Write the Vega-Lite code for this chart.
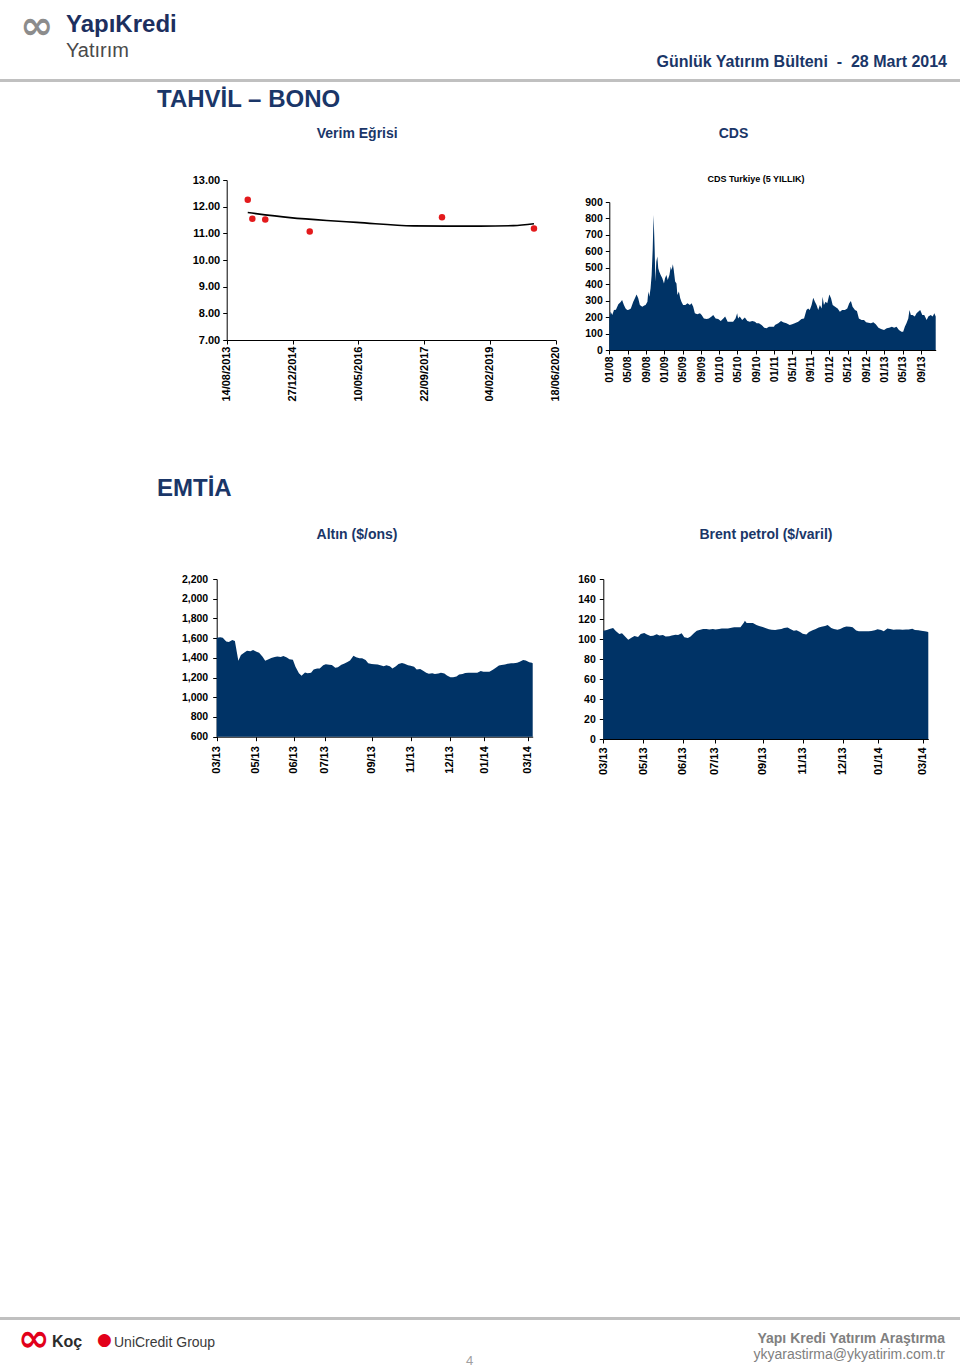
{
  "$schema": "https://vega.github.io/schema/vega-lite/v6.json",
  "background": "white",
  "padding": 0,
  "bounds": "flush",
  "spacing": 0,
  "datasets": {
    "blank": [{"part": "frame"}],
    "yield_points": [
      {"date": "2014-01-21", "yield": 12.26},
      {"date": "2014-02-25", "yield": 11.55},
      {"date": "2014-06-03", "yield": 11.52},
      {"date": "2015-05-07", "yield": 11.07},
      {"date": "2018-02-05", "yield": 11.60},
      {"date": "2020-01-05", "yield": 11.18}
    ],
    "yield_trend": [
      {"date": "2014-01-21", "yield": 11.78},
      {"date": "2014-12-08", "yield": 11.59},
      {"date": "2015-09-13", "yield": 11.48},
      {"date": "2016-04-28", "yield": 11.41},
      {"date": "2017-07-02", "yield": 11.28},
      {"date": "2018-03-13", "yield": 11.27},
      {"date": "2018-11-21", "yield": 11.27},
      {"date": "2019-08-01", "yield": 11.29},
      {"date": "2020-01-05", "yield": 11.36}
    ],
    "cds": [
      {"date": "2008-01-01", "cds": 192}, {"date": "2008-01-10", "cds": 233}, {"date": "2008-01-21", "cds": 213},
      {"date": "2008-02-01", "cds": 243}, {"date": "2008-02-14", "cds": 245}, {"date": "2008-03-01", "cds": 278},
      {"date": "2008-03-15", "cds": 290}, {"date": "2008-03-26", "cds": 304}, {"date": "2008-04-07", "cds": 274},
      {"date": "2008-04-18", "cds": 253}, {"date": "2008-04-29", "cds": 243}, {"date": "2008-05-10", "cds": 245},
      {"date": "2008-05-23", "cds": 253}, {"date": "2008-06-08", "cds": 294}, {"date": "2008-06-19", "cds": 314},
      {"date": "2008-06-30", "cds": 338}, {"date": "2008-07-11", "cds": 314}, {"date": "2008-07-22", "cds": 274},
      {"date": "2008-08-07", "cds": 263}, {"date": "2008-08-20", "cds": 270}, {"date": "2008-08-29", "cds": 274},
      {"date": "2008-09-10", "cds": 294}, {"date": "2008-09-16", "cds": 355}, {"date": "2008-09-23", "cds": 324},
      {"date": "2008-10-01", "cds": 375}, {"date": "2008-10-08", "cds": 456}, {"date": "2008-10-15", "cds": 608},
      {"date": "2008-10-21", "cds": 821}, {"date": "2008-10-28", "cds": 618}, {"date": "2008-11-02", "cds": 416},
      {"date": "2008-11-08", "cds": 537}, {"date": "2008-11-15", "cds": 568}, {"date": "2008-11-21", "cds": 497},
      {"date": "2008-11-28", "cds": 476}, {"date": "2008-12-07", "cds": 456}, {"date": "2008-12-18", "cds": 436},
      {"date": "2008-12-29", "cds": 405}, {"date": "2009-01-05", "cds": 436}, {"date": "2009-01-14", "cds": 456},
      {"date": "2009-01-23", "cds": 426}, {"date": "2009-02-03", "cds": 456}, {"date": "2009-02-12", "cds": 507},
      {"date": "2009-02-18", "cds": 487}, {"date": "2009-02-26", "cds": 521}, {"date": "2009-03-04", "cds": 487},
      {"date": "2009-03-13", "cds": 416}, {"date": "2009-03-22", "cds": 405}, {"date": "2009-03-28", "cds": 334},
      {"date": "2009-04-07", "cds": 355}, {"date": "2009-04-16", "cds": 314}, {"date": "2009-04-24", "cds": 294},
      {"date": "2009-05-05", "cds": 274}, {"date": "2009-05-20", "cds": 274}, {"date": "2009-06-03", "cds": 284},
      {"date": "2009-06-19", "cds": 274}, {"date": "2009-06-30", "cds": 284}, {"date": "2009-07-11", "cds": 263},
      {"date": "2009-07-22", "cds": 223}, {"date": "2009-08-07", "cds": 217}, {"date": "2009-08-25", "cds": 223},
      {"date": "2009-09-05", "cds": 213}, {"date": "2009-09-20", "cds": 192}, {"date": "2009-10-08", "cds": 189},
      {"date": "2009-10-23", "cds": 192}, {"date": "2009-11-10", "cds": 203}, {"date": "2009-11-21", "cds": 213},
      {"date": "2009-12-07", "cds": 192}, {"date": "2009-12-24", "cds": 189}, {"date": "2010-01-10", "cds": 176},
      {"date": "2010-01-27", "cds": 192}, {"date": "2010-02-08", "cds": 203}, {"date": "2010-02-25", "cds": 172},
      {"date": "2010-03-11", "cds": 172}, {"date": "2010-04-02", "cds": 172}, {"date": "2010-04-18", "cds": 192},
      {"date": "2010-04-29", "cds": 223}, {"date": "2010-05-05", "cds": 192}, {"date": "2010-05-16", "cds": 203},
      {"date": "2010-06-01", "cds": 182}, {"date": "2010-06-19", "cds": 197}, {"date": "2010-07-06", "cds": 176},
      {"date": "2010-07-22", "cds": 172}, {"date": "2010-08-07", "cds": 176}, {"date": "2010-08-25", "cds": 172},
      {"date": "2010-09-05", "cds": 162}, {"date": "2010-09-20", "cds": 162}, {"date": "2010-10-08", "cds": 152},
      {"date": "2010-10-26", "cds": 136}, {"date": "2010-11-10", "cds": 132}, {"date": "2010-11-26", "cds": 142},
      {"date": "2010-12-14", "cds": 142}, {"date": "2010-12-29", "cds": 142}, {"date": "2011-01-05", "cds": 152},
      {"date": "2011-01-27", "cds": 162}, {"date": "2011-02-14", "cds": 176}, {"date": "2011-02-28", "cds": 168},
      {"date": "2011-03-22", "cds": 162}, {"date": "2011-04-13", "cds": 152}, {"date": "2011-04-29", "cds": 156},
      {"date": "2011-05-16", "cds": 162}, {"date": "2011-06-08", "cds": 172}, {"date": "2011-06-30", "cds": 189},
      {"date": "2011-07-17", "cds": 192}, {"date": "2011-08-02", "cds": 243}, {"date": "2011-08-13", "cds": 253},
      {"date": "2011-08-24", "cds": 243}, {"date": "2011-09-05", "cds": 274}, {"date": "2011-09-16", "cds": 318},
      {"date": "2011-09-27", "cds": 294}, {"date": "2011-10-08", "cds": 274}, {"date": "2011-10-19", "cds": 243},
      {"date": "2011-10-30", "cds": 274}, {"date": "2011-11-11", "cds": 253}, {"date": "2011-11-17", "cds": 324},
      {"date": "2011-11-26", "cds": 274}, {"date": "2011-12-07", "cds": 294}, {"date": "2011-12-18", "cds": 284},
      {"date": "2012-01-01", "cds": 338}, {"date": "2012-01-12", "cds": 314}, {"date": "2012-01-23", "cds": 274},
      {"date": "2012-02-08", "cds": 263}, {"date": "2012-02-25", "cds": 253}, {"date": "2012-03-11", "cds": 233},
      {"date": "2012-03-26", "cds": 243}, {"date": "2012-04-13", "cds": 243}, {"date": "2012-04-29", "cds": 253},
      {"date": "2012-05-12", "cds": 284}, {"date": "2012-05-23", "cds": 298}, {"date": "2012-06-03", "cds": 263},
      {"date": "2012-06-19", "cds": 243}, {"date": "2012-07-02", "cds": 237}, {"date": "2012-07-15", "cds": 192},
      {"date": "2012-08-02", "cds": 182}, {"date": "2012-08-18", "cds": 182}, {"date": "2012-09-01", "cds": 168},
      {"date": "2012-09-16", "cds": 166}, {"date": "2012-10-03", "cds": 162}, {"date": "2012-10-19", "cds": 168},
      {"date": "2012-11-04", "cds": 156}, {"date": "2012-11-22", "cds": 136}, {"date": "2012-12-09", "cds": 128},
      {"date": "2012-12-29", "cds": 122}, {"date": "2013-01-16", "cds": 132}, {"date": "2013-02-01", "cds": 136},
      {"date": "2013-02-19", "cds": 142}, {"date": "2013-03-06", "cds": 136}, {"date": "2013-03-22", "cds": 142},
      {"date": "2013-04-07", "cds": 122}, {"date": "2013-04-24", "cds": 111}, {"date": "2013-05-05", "cds": 111},
      {"date": "2013-05-16", "cds": 142}, {"date": "2013-05-27", "cds": 162}, {"date": "2013-06-08", "cds": 192},
      {"date": "2013-06-16", "cds": 243}, {"date": "2013-06-25", "cds": 213}, {"date": "2013-07-06", "cds": 213},
      {"date": "2013-07-21", "cds": 203}, {"date": "2013-08-02", "cds": 223}, {"date": "2013-08-13", "cds": 233},
      {"date": "2013-08-26", "cds": 243}, {"date": "2013-09-09", "cds": 213}, {"date": "2013-09-22", "cds": 213},
      {"date": "2013-10-08", "cds": 182}, {"date": "2013-10-19", "cds": 203}, {"date": "2013-11-04", "cds": 213},
      {"date": "2013-11-17", "cds": 203}, {"date": "2013-11-28", "cds": 223}, {"date": "2013-12-07", "cds": 203}
    ],
    "commodities": [
      {"date": "2013-03-28", "gold": 1605, "brent": 108.3}, {"date": "2013-04-01", "gold": 1608, "brent": 109},
      {"date": "2013-04-04", "gold": 1604, "brent": 110}, {"date": "2013-04-08", "gold": 1565, "brent": 111},
      {"date": "2013-04-11", "gold": 1560, "brent": 108}, {"date": "2013-04-15", "gold": 1580, "brent": 105},
      {"date": "2013-04-18", "gold": 1570, "brent": 105.7}, {"date": "2013-04-22", "gold": 1371, "brent": 102},
      {"date": "2013-04-25", "gold": 1430, "brent": 99.3}, {"date": "2013-04-29", "gold": 1455, "brent": 101.5},
      {"date": "2013-05-02", "gold": 1473, "brent": 103}, {"date": "2013-05-06", "gold": 1466, "brent": 102},
      {"date": "2013-05-09", "gold": 1480, "brent": 105}, {"date": "2013-05-13", "gold": 1463, "brent": 106},
      {"date": "2013-05-16", "gold": 1452, "brent": 104.5}, {"date": "2013-05-20", "gold": 1410, "brent": 103},
      {"date": "2013-05-23", "gold": 1370, "brent": 103.3}, {"date": "2013-05-27", "gold": 1385, "brent": 104.7},
      {"date": "2013-05-30", "gold": 1398, "brent": 103.5}, {"date": "2013-06-03", "gold": 1408, "brent": 104},
      {"date": "2013-06-06", "gold": 1413, "brent": 102.5}, {"date": "2013-06-10", "gold": 1408, "brent": 102.7},
      {"date": "2013-06-13", "gold": 1420, "brent": 103.5}, {"date": "2013-06-17", "gold": 1404, "brent": 104.3},
      {"date": "2013-06-20", "gold": 1385, "brent": 104}, {"date": "2013-06-24", "gold": 1381, "brent": 105.7},
      {"date": "2013-06-27", "gold": 1310, "brent": 101.7}, {"date": "2013-07-01", "gold": 1245, "brent": 101},
      {"date": "2013-07-04", "gold": 1219, "brent": 102.5}, {"date": "2013-07-08", "gold": 1252, "brent": 106},
      {"date": "2013-07-11", "gold": 1243, "brent": 108.3}, {"date": "2013-07-15", "gold": 1250, "brent": 109.3},
      {"date": "2013-07-18", "gold": 1282, "brent": 110}, {"date": "2013-07-22", "gold": 1293, "brent": 110},
      {"date": "2013-07-25", "gold": 1293, "brent": 109.5}, {"date": "2013-07-29", "gold": 1325, "brent": 110},
      {"date": "2013-08-01", "gold": 1335, "brent": 109.5}, {"date": "2013-08-05", "gold": 1329, "brent": 110},
      {"date": "2013-08-08", "gold": 1327, "brent": 110.5}, {"date": "2013-08-12", "gold": 1300, "brent": 110.5},
      {"date": "2013-08-15", "gold": 1305, "brent": 110.5}, {"date": "2013-08-19", "gold": 1330, "brent": 111.3},
      {"date": "2013-08-22", "gold": 1340, "brent": 111.7}, {"date": "2013-08-26", "gold": 1358, "brent": 111.7},
      {"date": "2013-08-29", "gold": 1372, "brent": 111.7}, {"date": "2013-09-02", "gold": 1421, "brent": 116.5},
      {"date": "2013-09-03", "gold": 1415, "brent": 118.3}, {"date": "2013-09-05", "gold": 1407, "brent": 116},
      {"date": "2013-09-09", "gold": 1396, "brent": 116}, {"date": "2013-09-12", "gold": 1395, "brent": 116},
      {"date": "2013-09-16", "gold": 1378, "brent": 114}, {"date": "2013-09-19", "gold": 1345, "brent": 113},
      {"date": "2013-09-23", "gold": 1338, "brent": 112}, {"date": "2013-09-26", "gold": 1335, "brent": 111},
      {"date": "2013-09-30", "gold": 1332, "brent": 109.7}, {"date": "2013-10-03", "gold": 1325, "brent": 109.3},
      {"date": "2013-10-07", "gold": 1316, "brent": 109}, {"date": "2013-10-10", "gold": 1326, "brent": 109.5},
      {"date": "2013-10-14", "gold": 1314, "brent": 110}, {"date": "2013-10-17", "gold": 1292, "brent": 111},
      {"date": "2013-10-21", "gold": 1314, "brent": 111.5}, {"date": "2013-10-24", "gold": 1338, "brent": 110},
      {"date": "2013-10-28", "gold": 1348, "brent": 108.3}, {"date": "2013-10-31", "gold": 1340, "brent": 108.7},
      {"date": "2013-11-04", "gold": 1324, "brent": 107}, {"date": "2013-11-07", "gold": 1319, "brent": 105.3},
      {"date": "2013-11-11", "gold": 1310, "brent": 104.5}, {"date": "2013-11-14", "gold": 1281, "brent": 107},
      {"date": "2013-11-18", "gold": 1286, "brent": 108.7}, {"date": "2013-11-21", "gold": 1272, "brent": 109.8},
      {"date": "2013-11-25", "gold": 1248, "brent": 111.5}, {"date": "2013-11-28", "gold": 1239, "brent": 112.3},
      {"date": "2013-12-02", "gold": 1243, "brent": 113}, {"date": "2013-12-05", "gold": 1235, "brent": 114},
      {"date": "2013-12-09", "gold": 1240, "brent": 111}, {"date": "2013-12-12", "gold": 1250, "brent": 110},
      {"date": "2013-12-16", "gold": 1240, "brent": 109.3}, {"date": "2013-12-19", "gold": 1222, "brent": 110},
      {"date": "2013-12-23", "gold": 1202, "brent": 111.7}, {"date": "2013-12-26", "gold": 1202, "brent": 112.5},
      {"date": "2013-12-30", "gold": 1212, "brent": 112.3}, {"date": "2014-01-02", "gold": 1232, "brent": 111.7},
      {"date": "2014-01-06", "gold": 1236, "brent": 108.5}, {"date": "2014-01-09", "gold": 1247, "brent": 107.8},
      {"date": "2014-01-13", "gold": 1248, "brent": 107.7}, {"date": "2014-01-16", "gold": 1250, "brent": 107.8},
      {"date": "2014-01-20", "gold": 1250, "brent": 107.7}, {"date": "2014-01-23", "gold": 1250, "brent": 108},
      {"date": "2014-01-27", "gold": 1267, "brent": 108.8}, {"date": "2014-01-30", "gold": 1260, "brent": 109.8},
      {"date": "2014-02-03", "gold": 1260, "brent": 109}, {"date": "2014-02-06", "gold": 1260, "brent": 107.7},
      {"date": "2014-02-10", "gold": 1279, "brent": 110.5}, {"date": "2014-02-13", "gold": 1298, "brent": 110},
      {"date": "2014-02-17", "gold": 1322, "brent": 109.3}, {"date": "2014-02-20", "gold": 1327, "brent": 109.5},
      {"date": "2014-02-24", "gold": 1333, "brent": 109.5}, {"date": "2014-02-27", "gold": 1339, "brent": 109.3},
      {"date": "2014-03-03", "gold": 1344, "brent": 109.5}, {"date": "2014-03-06", "gold": 1344, "brent": 109.4},
      {"date": "2014-03-10", "gold": 1351, "brent": 110.3}, {"date": "2014-03-13", "gold": 1361, "brent": 109},
      {"date": "2014-03-17", "gold": 1378, "brent": 108.7}, {"date": "2014-03-20", "gold": 1372, "brent": 108.3},
      {"date": "2014-03-24", "gold": 1356, "brent": 107.8}, {"date": "2014-03-27", "gold": 1350, "brent": 107.2},
      {"date": "2014-03-28", "gold": 1345, "brent": 106.7}
    ]
  },
  "vconcat": [
    {
      "width": 960, "height": 40,
      "data": {"name": "blank"},
      "mark": {"type": "rect", "opacity": 0},
      "encoding": {},
      "title": {"text": "∞", "orient": "bottom", "anchor": "start", "offset": -33, "dx": 20, "font": "DejaVu Sans", "fontSize": 40, "fontWeight": "bold", "color": "#8c8c8c"}
    },
    {
      "width": 960, "height": 39,
      "data": {"name": "blank"},
      "mark": {"type": "rect", "opacity": 0},
      "encoding": {},
      "title": {"text": "YapıKredi", "subtitle": "Yatırım", "orient": "bottom", "anchor": "start", "offset": -66.3, "dx": 66, "font": "Liberation Sans", "fontSize": 24, "fontWeight": "bold", "color": "#1d2f5e", "subtitleFont": "Liberation Sans", "subtitleFontSize": 20, "subtitleFontWeight": "normal", "subtitleColor": "#4a4a4a", "subtitlePadding": 4}
    },
    {
      "width": 960, "height": 3,
      "data": {"name": "blank"},
      "mark": {"type": "rect", "color": "#c0c0c0"},
      "encoding": {},
      "title": {"text": "Günlük Yatırım Bülteni \u00a0-\u00a0 28 Mart 2014", "orient": "bottom", "anchor": "end", "offset": -27.6, "dx": -13, "fontSize": 16}
    },
    {
      "width": 960, "height": 98,
      "data": {"name": "blank"},
      "mark": {"type": "rect", "opacity": 0},
      "encoding": {},
      "title": {"text": "TAHVİL – BONO", "orient": "bottom", "anchor": "start", "offset": -92, "dx": 157, "fontSize": 24}
    },
    {
      "width": 960, "height": 170,
      "resolve": {"scale": {"x": "independent", "y": "independent"}, "axis": {"x": "independent", "y": "independent"}},
      "layer": [
        {
          "encoding": {
            "x": {"field": "date", "type": "temporal",
              "scale": {"type": "utc", "domain": [{"year": 2013, "month": 8, "date": 14, "utc": true}, {"year": 2020, "month": 6, "date": 18, "utc": true}], "range": [226.7, 555.7], "nice": false},
              "axis": {"orient": "bottom", "offset": -10, "values": [{"year": 2013, "month": 8, "date": 14, "utc": true}, {"year": 2014, "month": 12, "date": 27, "utc": true}, {"year": 2016, "month": 5, "date": 10, "utc": true}, {"year": 2017, "month": 9, "date": 22, "utc": true}, {"year": 2019, "month": 2, "date": 4, "utc": true}, {"year": 2020, "month": 6, "date": 18, "utc": true}], "format": "%d/%m/%Y", "labelAngle": -90, "labelFontSize": 11, "labelPadding": 2, "title": null}},
            "y": {"field": "yield", "type": "quantitative",
              "scale": {"domain": [7, 13], "range": [160, 0], "zero": false, "nice": false},
              "axis": {"orient": "left", "offset": -226.7, "values": [7, 8, 9, 10, 11, 12, 13], "format": ".2f", "labelFontSize": 11, "labelPadding": 3, "title": "Verim Eğrisi", "titleAngle": 0, "titleX": 130, "titleY": -43, "titleAlign": "center", "titleBaseline": "alphabetic", "titleFontSize": 14, "titleColor": "#1a3668"}}
          },
          "layer": [
            {"data": {"name": "yield_trend"}, "mark": {"type": "line", "color": "#000000", "strokeWidth": 1.6, "interpolate": "monotone"}},
            {"data": {"name": "yield_points"}, "mark": {"type": "circle", "color": "#e31a1c", "size": 42, "opacity": 1}}
          ]
        },
        {
          "data": {"name": "cds"},
          "mark": {"type": "area", "color": "#003366"},
          "encoding": {
            "x": {"field": "date", "type": "temporal",
              "scale": {"type": "utc", "domain": [{"year": 2008, "month": 1, "date": 1, "utc": true}, {"year": 2013, "month": 12, "date": 7, "utc": true}], "range": [609.3, 935.7], "nice": false},
              "axis": {"orient": "bottom", "offset": 0, "tickCount": {"interval": "month", "step": 4}, "format": "%m/%y", "labelAngle": -90, "labelFontSize": 10.5, "labelPadding": 2, "title": "CDS Turkiye (5 YILLIK)", "titleAngle": 0, "titleX": 755.5, "titleY": -168.5, "titleAlign": "center", "titleBaseline": "alphabetic", "titleFontSize": 9, "titleColor": "#000000"}},
            "y": {"field": "cds", "type": "quantitative",
              "scale": {"domain": [0, 900], "range": [170, 22], "nice": false},
              "axis": {"orient": "left", "offset": -609.3, "values": [0, 100, 200, 300, 400, 500, 600, 700, 800, 900], "format": "d", "labelFontSize": 10.5, "labelPadding": 3, "title": "CDS", "titleAngle": 0, "titleX": 123.7, "titleY": -43, "titleAlign": "center", "titleBaseline": "alphabetic", "titleFontSize": 14, "titleColor": "#1a3668"}}
          }
        }
      ]
    },
    {
      "width": 960, "height": 228.3,
      "data": {"name": "blank"},
      "mark": {"type": "rect", "opacity": 0},
      "encoding": {},
      "title": {"text": "EMTİA", "orient": "bottom", "anchor": "start", "offset": -101.3, "dx": 157, "fontSize": 24}
    },
    {
      "width": 960, "height": 160,
      "resolve": {"scale": {"x": "independent", "y": "independent"}, "axis": {"x": "independent", "y": "independent"}},
      "layer": [
        {
          "data": {"name": "commodities"},
          "mark": {"type": "area", "color": "#003366"},
          "encoding": {
            "x": {"field": "date", "type": "temporal",
              "scale": {"type": "utc", "domain": [{"year": 2013, "month": 3, "date": 28, "utc": true}, {"year": 2014, "month": 3, "date": 28, "utc": true}], "range": [216.7, 532.7], "nice": false},
              "axis": {"orient": "bottom", "offset": -2.3, "values": [{"year": 2013, "month": 3, "date": 28, "utc": true}, {"year": 2013, "month": 5, "date": 12, "utc": true}, {"year": 2013, "month": 6, "date": 25, "utc": true}, {"year": 2013, "month": 7, "date": 31, "utc": true}, {"year": 2013, "month": 9, "date": 23, "utc": true}, {"year": 2013, "month": 11, "date": 7, "utc": true}, {"year": 2013, "month": 12, "date": 22, "utc": true}, {"year": 2014, "month": 1, "date": 31, "utc": true}, {"year": 2014, "month": 3, "date": 22, "utc": true}], "format": "%m/%y", "labelAngle": -90, "labelFontSize": 11, "labelPadding": 5, "title": null}},
            "y": {"field": "gold", "type": "quantitative",
              "scale": {"domain": [600, 2200], "range": [157.7, 0], "zero": false, "nice": false},
              "axis": {"orient": "left", "offset": -216.7, "values": [600, 800, 1000, 1200, 1400, 1600, 1800, 2000, 2200], "format": ",d", "labelFontSize": 10.5, "labelPadding": 5, "title": "Altın ($/ons)", "titleAngle": 0, "titleX": 139.8, "titleY": -40.3, "titleAlign": "center", "titleBaseline": "alphabetic", "titleFontSize": 14, "titleColor": "#1a3668"}},
            "y2": {"datum": 600}
          }
        },
        {
          "data": {"name": "commodities"},
          "mark": {"type": "area", "color": "#003366"},
          "encoding": {
            "x": {"field": "date", "type": "temporal",
              "scale": {"type": "utc", "domain": [{"year": 2013, "month": 3, "date": 28, "utc": true}, {"year": 2014, "month": 3, "date": 28, "utc": true}], "range": [603.3, 928.3], "nice": false},
              "axis": {"orient": "bottom", "offset": 0, "values": [{"year": 2013, "month": 3, "date": 28, "utc": true}, {"year": 2013, "month": 5, "date": 12, "utc": true}, {"year": 2013, "month": 6, "date": 25, "utc": true}, {"year": 2013, "month": 7, "date": 31, "utc": true}, {"year": 2013, "month": 9, "date": 23, "utc": true}, {"year": 2013, "month": 11, "date": 7, "utc": true}, {"year": 2013, "month": 12, "date": 22, "utc": true}, {"year": 2014, "month": 1, "date": 31, "utc": true}, {"year": 2014, "month": 3, "date": 22, "utc": true}], "format": "%m/%y", "labelAngle": -90, "labelFontSize": 11, "labelPadding": 4, "title": null}},
            "y": {"field": "brent", "type": "quantitative",
              "scale": {"domain": [0, 160], "range": [160, 0], "nice": false},
              "axis": {"orient": "left", "offset": -603.3, "values": [0, 20, 40, 60, 80, 100, 120, 140, 160], "format": "d", "labelFontSize": 10.5, "labelPadding": 4, "title": "Brent petrol ($/varil)", "titleAngle": 0, "titleX": 162.2, "titleY": -40.3, "titleAlign": "center", "titleBaseline": "alphabetic", "titleFontSize": 14, "titleColor": "#1a3668"}}
          }
        }
      ]
    },
    {
      "width": 960, "height": 150,
      "data": {"name": "blank"},
      "mark": {"type": "rect", "opacity": 0},
      "encoding": {},
      "title": {"text": "UniCredit Group", "orient": "bottom", "anchor": "start", "offset": 447, "dx": 114, "font": "Liberation Sans", "fontSize": 14, "fontWeight": "normal", "color": "#3a3a3a"}
    },
    {
      "width": 960, "height": 150,
      "data": {"name": "blank"},
      "mark": {"type": "rect", "opacity": 0},
      "encoding": {},
      "title": {"text": "Koç", "orient": "bottom", "anchor": "start", "offset": 295.1, "dx": 52, "font": "Liberation Sans", "fontSize": 16, "fontWeight": "bold", "color": "#2b2b2b"}
    },
    {
      "width": 960, "height": 150,
      "data": {"name": "blank"},
      "mark": {"type": "rect", "opacity": 0},
      "encoding": {},
      "title": {"text": "∞", "orient": "bottom", "anchor": "start", "offset": 132, "dx": 18, "font": "DejaVu Sans", "fontSize": 38, "fontWeight": "bold", "color": "#e2001a"}
    },
    {
      "width": 960, "height": 127.7,
      "data": {"name": "blank"},
      "mark": {"type": "rect", "opacity": 0},
      "encoding": {},
      "title": {"text": "●", "orient": "bottom", "anchor": "start", "offset": 15.7, "dx": 97, "font": "DejaVu Sans", "fontSize": 17, "fontWeight": "bold", "color": "#e2001a"}
    },
    {
      "width": 960, "height": 3,
      "data": {"name": "blank"},
      "mark": {"type": "rect", "color": "#c0c0c0"},
      "encoding": {},
      "title": {"text": "4", "orient": "bottom", "anchor": "start", "offset": 34.7, "dx": 466, "fontSize": 13, "fontWeight": "normal", "color": "#a0a0a0"}
    },
    {
      "width": 960, "height": 46,
      "data": {"name": "blank"},
      "mark": {"type": "rect", "opacity": 0},
      "encoding": {},
      "title": {"text": "Yapı Kredi Yatırım Araştırma", "subtitle": "ykyarastirma@ykyatirim.com.tr", "orient": "bottom", "anchor": "end", "offset": -34.1, "dx": -15, "fontSize": 14, "fontWeight": "bold", "color": "#808080", "subtitleFont": "Liberation Sans", "subtitleFontSize": 14, "subtitleColor": "#808080", "subtitlePadding": 2}
    }
  ],
  "config": {
    "view": {"stroke": null},
    "font": "Liberation Sans",
    "axis": {"grid": false, "domainColor": "#000000", "tickColor": "#000000", "labelColor": "#000000", "labelFont": "Liberation Sans", "labelFontWeight": "bold", "tickSize": 4, "labelOverlap": false, "labelFlush": false, "titleFont": "Liberation Sans", "titleFontWeight": "bold"},
    "title": {"font": "Liberation Sans", "fontWeight": "bold", "color": "#1a3668"}
  }
}
